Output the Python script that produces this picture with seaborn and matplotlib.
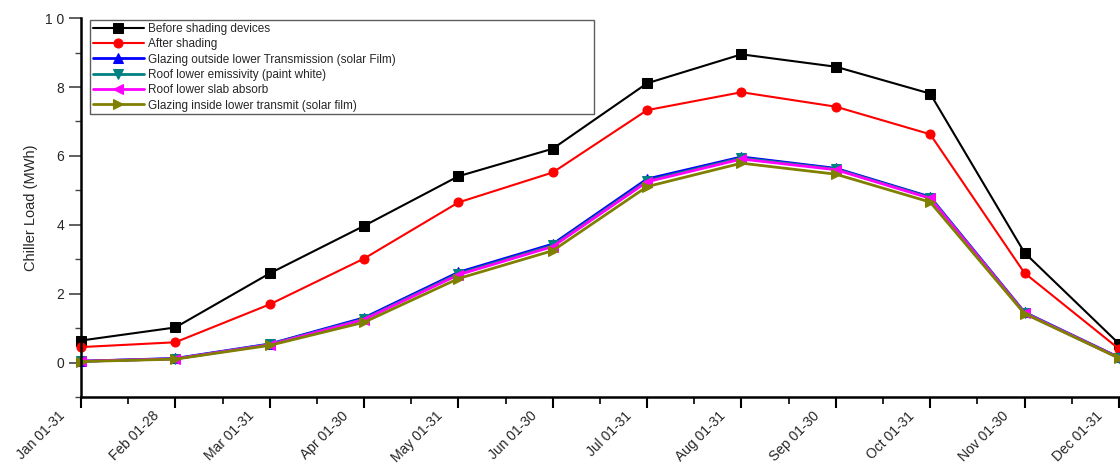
import matplotlib
matplotlib.use("Agg")
import matplotlib.pyplot as plt
import matplotlib.transforms as mtransforms
import seaborn as sns
import numpy as np
from matplotlib.ticker import MultipleLocator

months = ["Jan 01-31", "Feb 01-28", "Mar 01-31", "Apr 01-30", "May 01-31", "Jun 01-30",
          "Jul 01-31", "Aug 01-31", "Sep 01-30", "Oct 01-31", "Nov 01-30", "Dec 01-31"]

before_shading = [0.64, 1.02, 2.59, 3.97, 5.41, 6.21, 8.11, 8.95, 8.59, 7.81, 3.19, 0.55]
after_shading = [0.45, 0.59, 1.69, 3.02, 4.65, 5.52, 7.33, 7.85, 7.43, 6.63, 2.60, 0.40]
glazing_outside = [0.04, 0.12, 0.54, 1.30, 2.62, 3.44, 5.33, 5.97, 5.64, 4.81, 1.46, 0.15]
roof_emissivity = [0.04, 0.11, 0.53, 1.27, 2.58, 3.40, 5.28, 5.94, 5.62, 4.79, 1.45, 0.14]
roof_slab = [0.04, 0.11, 0.52, 1.25, 2.55, 3.37, 5.25, 5.91, 5.60, 4.77, 1.44, 0.14]
glazing_inside = [0.03, 0.10, 0.50, 1.17, 2.44, 3.25, 5.11, 5.79, 5.47, 4.66, 1.42, 0.13]

labels = ["Before shading devices", "After shading",
          "Glazing outside lower Transmission (solar Film)",
          "Roof lower emissivity (paint white)", "Roof lower slab absorb",
          "Glazing inside lower transmit (solar film)"]
series = [before_shading, after_shading, glazing_outside, roof_emissivity, roof_slab, glazing_inside]
colors = ["black", "red", "blue", "#008080", "magenta", "#808000"]
markers = ["s", "o", "^", "v", "<", ">"]
widths = [1.5, 1.5, 2.0, 2.0, 2.0, 2.0]

sns.set_style("ticks")
plt.rcParams["font.family"] = ["Liberation Sans", "DejaVu Sans"]

fig = plt.figure(figsize=(11.2, 4.66), dpi=100)
ax = fig.add_axes([0.0723, 0.148, 0.9267, 0.813])

xpos = np.arange(len(months))
for vals, lab, c, m, lw in zip(series, labels, colors, markers, widths):
    sns.lineplot(x=xpos, y=vals, ax=ax, color=c, marker=m, markersize=6.5,
                 markeredgecolor=c, linewidth=lw, label=lab, clip_on=False)

ax.set_xlim(0, 11)
ax.set_ylim(-1, 10)
ax.set_xticks(xpos)
ax.xaxis.set_minor_locator(MultipleLocator(0.5))
ax.set_yticks([0, 2, 4, 6, 8, 10])
ax.set_yticklabels(["0", "2", "4", "6", "8", "1 0"], fontsize=10)
ax.yaxis.set_minor_locator(MultipleLocator(1))
ax.tick_params(axis="x", which="major", direction="out", length=8, width=1.5, color="black", pad=4)
ax.tick_params(axis="x", which="minor", direction="out", length=5, width=1.2, color="black")
ax.tick_params(axis="y", which="major", direction="out", length=8.5, width=1.2, color="#444444")
ax.tick_params(axis="y", which="minor", direction="out", length=4.5, width=1.0, color="#444444")
ax.set_xticklabels(months, rotation=45, ha="right", va="center", rotation_mode="anchor", fontsize=10)
offset = mtransforms.ScaledTranslation(-13 / 72, 0, fig.dpi_scale_trans)
for lbl in ax.get_xticklabels():
    lbl.set_transform(lbl.get_transform() + offset)
ax.set_ylabel("Chiller Load (MWh)", fontsize=10.5, labelpad=5)
ax.set_xlabel("")

for s in ["top", "right"]:
    ax.spines[s].set_visible(False)
for s in ["left", "bottom"]:
    ax.spines[s].set_linewidth(1.8)
    ax.spines[s].set_color("black")

leg = ax.legend(loc="upper left", bbox_to_anchor=(0.0087, 0.0, 0.4855, 0.995), mode="expand",
                fontsize=8.5, handlelength=4.3, labelspacing=0.28, borderpad=0.25,
                handletextpad=0.4, borderaxespad=0.0, frameon=True, fancybox=False)
leg.get_frame().set_edgecolor("#333333")
leg.get_frame().set_linewidth(1.0)
for t in leg.get_texts():
    t.set_fontsize(8.5)

fig.savefig("out.png", dpi=100)
